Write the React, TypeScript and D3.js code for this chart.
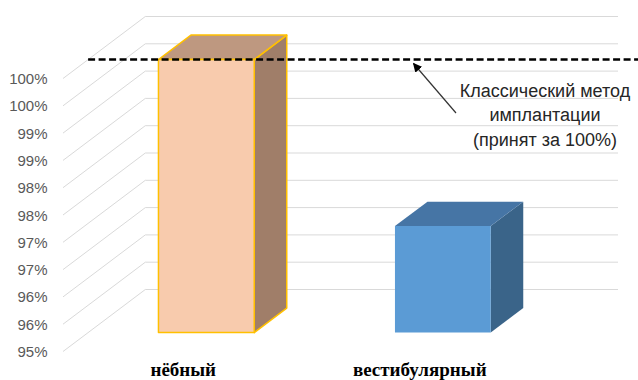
import React from "react";
import * as d3 from "d3";

const categories = ["нёбный", "вестибулярный"];
const values = [100, 96.95];
const yTicks = [95, 95.5, 96, 96.5, 97, 97.5, 98, 98.5, 99, 99.5, 100];
const yTickLabels = ["95%", "96%", "96%", "97%", "97%", "98%", "98%", "99%", "99%", "100%", "100%"];
const referenceValue = 100;
const annotationLines = ["Классический метод", "имплантации", "(принят за 100%)"];

const frontColors = ["#F8CBAD", "#5B9BD5"];
const topColors = ["#BE9880", "#4675A5"];
const sideColors = ["#A07E69", "#3A6489"];
const strokeColors = ["#FFC000", "none"];

const W = 638;
const H = 380;
const DX = 82.3;
const DY = -62;
const barDepthPos = 0.305;
const barDepth = 0.395;

export default function App() {
  const y = d3.scaleLinear().domain([95, 100]).range([351.5, 78.5]);
  const x = d3.scaleBand<string>().domain(categories).range([63, 536]).padding(0);
  const barW = x.bandwidth() * 0.405;
  const P = (px: number, py: number, depth: number): [number, number] => [px + DX * depth, py + DY * depth];
  const poly = (pts: [number, number][]) => pts.map((p) => p.join(",")).join(" ");
  const font = "'Liberation Sans', Arial, sans-serif";

  return (
    <svg width={W} height={H} style={{ position: "absolute", left: 0, top: 0, background: "#fff" }}>
      {/* gridlines */}
      {yTicks.map((t, i) => {
        const [fx, fy] = P(63, y(t), 0);
        const [bx, by] = P(63, y(t), 1);
        return (
          <g key={i}>
            <polyline
              points={poly([[fx, fy], [bx, by], [618, by]])}
              fill="none"
              stroke="#D9D9D9"
              strokeWidth={1}
            />
            <text x={47.5} y={fy + 5.5} textAnchor="end" fontFamily={font} fontSize={15} fill="#595959">
              {yTickLabels[i]}
            </text>
          </g>
        );
      })}
      {/* bars */}
      {categories.map((c, i) => {
        const cx = (x(c) as number) + x.bandwidth() / 2;
        const xl = cx - barW / 2;
        const xr = cx + barW / 2;
        const yt = y(values[i]);
        const yb = y(95);
        const f0 = barDepthPos;
        const f1 = barDepthPos + barDepth;
        const front = [P(xl, yt, f0), P(xr, yt, f0), P(xr, yb, f0), P(xl, yb, f0)];
        const top = [P(xl, yt, f0), P(xr, yt, f0), P(xr, yt, f1), P(xl, yt, f1)];
        const side = [P(xr, yt, f0), P(xr, yt, f1), P(xr, yb, f1), P(xr, yb, f0)];
        const sc = strokeColors[i];
        return (
          <g key={c}>
            <polygon points={poly(side)} fill={sideColors[i]} stroke={sc} strokeWidth={1.5} strokeLinejoin="round" />
            <polygon points={poly(top)} fill={topColors[i]} stroke={sc} strokeWidth={1.5} strokeLinejoin="round" />
            <polygon points={poly(front)} fill={frontColors[i]} stroke={sc} strokeWidth={1.5} strokeLinejoin="round" />
          </g>
        );
      })}
      {/* reference dashed line */}
      {(() => {
        const [rx, ry] = P(63, y(referenceValue), barDepthPos);
        return (
          <line x1={rx} y1={ry} x2={W} y2={ry} stroke="#000" strokeWidth={2.5} strokeDasharray="7 3.5" />
        );
      })()}
      {/* category labels */}
      {categories.map((c) => (
        <text
          key={c}
          x={(x(c) as number) + x.bandwidth() / 2 + 2}
          y={376}
          textAnchor="middle"
          fontFamily="'Liberation Serif', 'Times New Roman', serif"
          fontWeight="bold"
          fontSize={19}
          fill="#000"
        >
          {c}
        </text>
      ))}
      {/* annotation arrow */}
      <defs>
        <marker id="ah" viewBox="0 0 10 10" refX={9} refY={5} markerWidth={9} markerHeight={9} markerUnits="userSpaceOnUse" orient="auto">
          <path d="M0,0 L10,5 L0,10 z" fill="#000" />
        </marker>
      </defs>
      <line x1={456} y1={113} x2={413.5} y2={63.5} stroke="#333" strokeWidth={1.2} markerEnd="url(#ah)" />
      {annotationLines.map((t, i) => (
        <text key={i} x={545} y={96.5 + i * 24.8} textAnchor="middle" fontFamily={font} fontSize={18} fill="#262626">
          {t}
        </text>
      ))}
    </svg>
  );
}
